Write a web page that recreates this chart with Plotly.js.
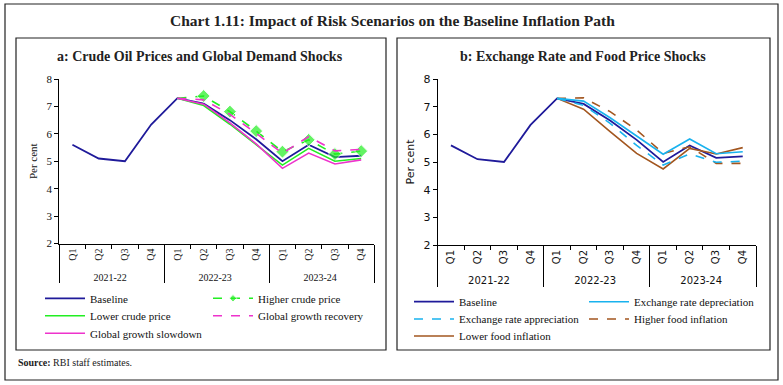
<!DOCTYPE html>
<html>
<head>
<meta charset="utf-8">
<script src="https://cdn.plot.ly/plotly-3.0.1.min.js"></script>
<style>html,body{margin:0;padding:0;background:#fff;}#chart{width:783px;height:385px;}</style>
</head>
<body>
<div id="chart"></div>
<script>
// ---- data ----
const years = ['2021-22','2021-22','2021-22','2021-22','2022-23','2022-23','2022-23','2022-23','2023-24','2023-24','2023-24','2023-24'];
const quarters = ['Q1','Q2','Q3','Q4','Q1','Q2','Q3','Q4','Q1','Q2','Q3','Q4'];
const baseline = [5.6, 5.1, 5.0, 6.34, 7.3, 7.1, 6.5, 5.8, 5.0, 5.6, 5.15, 5.2];
// panel a scenarios (from 2022-23 Q1)
const higherCrude   = [null,null,null,null, 7.3, 7.38, 6.81, 6.1, 5.35, 5.78, 5.26, 5.37];
const lowerCrude    = [null,null,null,null, 7.3, 7.03, 6.35, 5.6, 4.86, 5.47, 5.0, 5.1];
const growthRecov   = [null,null,null,null, 7.3, 7.24, 6.71, 6.02, 5.29, 5.9, 5.38, 5.43];
const growthSlow    = [null,null,null,null, 7.3, 7.08, 6.4, 5.63, 4.74, 5.3, 4.9, 5.05];
// panel b scenarios
const erDepreciation = [null,null,null,null, 7.3, 7.2, 6.6, 5.95, 5.28, 5.83, 5.3, 5.37];
const erAppreciation = [null,null,null,null, 7.3, 7.05, 6.4, 5.6, 4.89, 5.29, 4.99, 5.03];
const higherFood     = [null,null,null,null, 7.3, 7.32, 6.82, 6.16, 5.31, 5.55, 4.95, 4.95];
const lowerFood      = [null,null,null,null, 7.3, 6.91, 6.1, 5.31, 4.75, 5.49, 5.29, 5.52];

const W = 783, H = 385;
const px = v => v / W;
const py = v => 1 - v / H;
const x = [years, quarters];

const serif = 'Liberation Serif, DejaVu Serif, serif';
const sans = 'DejaVu Sans, Liberation Sans, sans-serif';

const NAVY = '#1f1a9a', GREEN = '#22ee22', MAG = '#ee33cc', LBLUE = '#19b2ee', BROWN = '#a2561f';

function tr(y, name, color, dash, xa, ya, leg, extra) {
  return Object.assign({
    type: 'scatter', mode: 'lines', x: x, y: y, name: name,
    xaxis: xa, yaxis: ya, legend: leg, connectgaps: false,
    line: {color: color, width: 1.6, dash: dash}
  }, extra || {});
}

const traces = [
  tr(baseline, 'Baseline', NAVY, 'solid', 'x', 'y', 'legend', {line:{color:NAVY,width:1.8}}),
  tr(higherCrude, 'Higher crude price', GREEN, 'dash', 'x', 'y', 'legend2',
     {mode:'lines+markers', marker:{symbol:'diamond', size:[0,0,0,0,0,10,10,10,10,10,10,10], color:GREEN}}),
  tr(lowerCrude, 'Lower crude price', GREEN, 'solid', 'x', 'y', 'legend3'),
  tr(growthRecov, 'Global growth recovery', MAG, 'dash', 'x', 'y', 'legend4'),
  tr(growthSlow, 'Global growth slowdown', MAG, 'solid', 'x', 'y', 'legend5'),
  tr(baseline, 'Baseline', NAVY, 'solid', 'x2', 'y2', 'legend6', {line:{color:NAVY,width:1.8}}),
  tr(higherFood, 'Higher food inflation', BROWN, 'dash', 'x2', 'y2', 'legend9'),
  tr(lowerFood, 'Lower food inflation', BROWN, 'solid', 'x2', 'y2', 'legend10'),
  tr(erDepreciation, 'Exchange rate depreciation', LBLUE, 'solid', 'x2', 'y2', 'legend7'),
  tr(erAppreciation, 'Exchange rate appreciation', LBLUE, 'dash', 'x2', 'y2', 'legend8')
];

function leg(xp, yp, fam) {
  return {x: px(xp), y: py(yp), xanchor: 'left', yanchor: 'middle', orientation: 'v',
          bgcolor: 'rgba(0,0,0,0)', borderwidth: 0, itemwidth: 40,
          font: {family: fam, size: 11, color: '#111'}};
}

function xax(d0, d1, anchor, fam) {
  return {type: 'multicategory', domain: [px(d0), px(d1)], anchor: anchor,
          range: [-0.5, 11.5], autorange: false,
          showline: true, linecolor: '#000', linewidth: 1, mirror: false,
          ticks: 'outside', ticklen: 4, tickcolor: '#000', tickwidth: 1,
          tickangle: -90, showdividers: true, dividercolor: '#000', dividerwidth: 1,
          showgrid: false, zeroline: false, automargin: false,
          tickfont: {family: fam, size: 10, color: '#111'}};
}
function yax(top, bot, anchor, fam) {
  return {domain: [py(bot), py(top)], anchor: anchor, range: [2, 8], dtick: 1,
          showline: true, linecolor: '#000', linewidth: 1,
          ticks: 'outside', ticklen: 4, tickcolor: '#000',
          showgrid: false, zeroline: false, automargin: false,
          tickfont: {family: fam, size: 11, color: '#111'},
          title: {text: 'Per cent', font: {family: fam, size: 11, color: '#111'}, standoff: 6}};
}

const layout = {
  width: W, height: H, margin: {l: 0, r: 0, t: 0, b: 0},
  paper_bgcolor: '#fff', plot_bgcolor: 'rgba(0,0,0,0)',
  showlegend: true,
  xaxis: xax(59.3, 374.3, 'y', serif),
  yaxis: yax(79, 243.5, 'x', serif),
  xaxis2: xax(437.7, 756, 'y2', sans),
  yaxis2: yax(79, 245, 'x2', sans),
  legend: leg(40, 298.3, serif),
  legend2: leg(208, 298.3, serif),
  legend3: leg(40, 315.7, serif),
  legend4: leg(208, 315.7, serif),
  legend5: leg(40, 333.3, serif),
  legend6: leg(409, 301.7, serif),
  legend7: leg(584, 301.7, serif),
  legend8: leg(409, 319, serif),
  legend9: leg(584, 319, serif),
  legend10: leg(409, 336, serif),
  shapes: [
    {type: 'rect', xref: 'paper', yref: 'paper', x0: px(5), x1: px(778), y0: py(380), y1: py(4), line: {color: '#222', width: 1.2}, layer: 'below'},
    {type: 'rect', xref: 'paper', yref: 'paper', x0: px(16), x1: px(386), y0: py(350), y1: py(38), line: {color: '#222', width: 1.2}, layer: 'below'},
    {type: 'rect', xref: 'paper', yref: 'paper', x0: px(397), x1: px(770), y0: py(350), y1: py(38), line: {color: '#222', width: 1.2}, layer: 'below'}
  ],
  annotations: [
    {text: '<b>Chart 1.11: Impact of Risk Scenarios on the Baseline Inflation Path</b>', xref: 'paper', yref: 'paper',
     x: px(392), y: py(20), xanchor: 'center', yanchor: 'middle', showarrow: false,
     font: {family: serif, size: 15.5, color: '#222'}},
    {text: '<b>a: Crude Oil Prices and Global Demand Shocks</b>', xref: 'paper', yref: 'paper',
     x: px(200), y: py(56), xanchor: 'center', yanchor: 'middle', showarrow: false,
     font: {family: serif, size: 14, color: '#222'}},
    {text: '<b>b: Exchange Rate and Food Price Shocks</b>', xref: 'paper', yref: 'paper',
     x: px(583), y: py(56), xanchor: 'center', yanchor: 'middle', showarrow: false,
     font: {family: serif, size: 14, color: '#222'}},
    {text: '<b>Source:</b> RBI staff estimates.', xref: 'paper', yref: 'paper',
     x: px(16), y: py(362), xanchor: 'left', yanchor: 'middle', showarrow: false,
     font: {family: serif, size: 10, color: '#222'}}
  ]
};

Plotly.newPlot('chart', traces, layout, {staticPlot: true, displayModeBar: false});
</script>
</body>
</html>
